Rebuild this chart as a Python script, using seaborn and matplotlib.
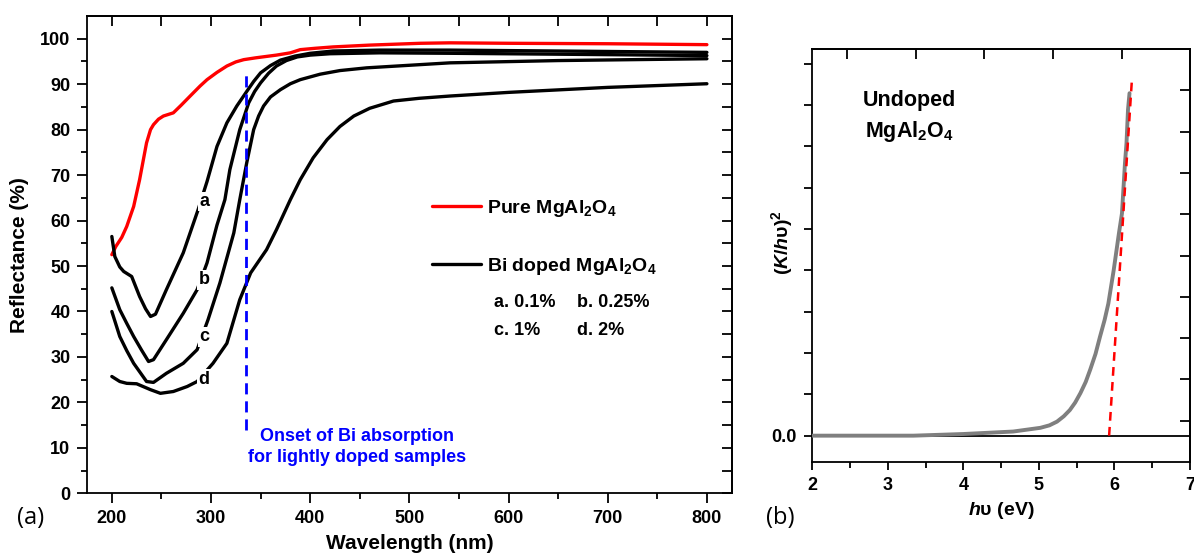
import matplotlib
matplotlib.use('Agg')
import matplotlib.pyplot as plt
import seaborn as sns

# ---------------- data: panel (a) reflectance ----------------
wl_pure = [200, 204, 210, 215, 222, 228, 235, 239, 242, 247, 252, 262, 270, 279, 289, 296, 306, 316, 325, 333, 345, 366, 380, 390, 405, 423, 460, 511, 541, 600, 700, 800]
r_pure = [52.5, 54.3, 56.3, 58.7, 63.1, 69.0, 77.1, 80.0, 81.1, 82.3, 83.0, 83.7, 85.4, 87.4, 89.6, 91.0, 92.6, 94.0, 94.9, 95.4, 95.8, 96.4, 96.9, 97.6, 97.9, 98.2, 98.6, 99.0, 99.1, 99.0, 98.9, 98.7]

wl_a = [200, 203, 208, 212, 220, 228, 234, 239, 244, 255, 272, 287, 296, 306, 316, 326, 336, 343, 350, 360, 370, 385, 400, 423, 470, 541, 650, 800]
r_a = [56.5, 52.1, 49.8, 48.8, 47.7, 43.3, 40.6, 38.9, 39.4, 44.8, 52.9, 62.4, 68.6, 76.3, 81.5, 85.2, 88.4, 90.6, 92.5, 94.1, 95.3, 96.2, 96.8, 97.3, 97.5, 97.5, 97.3, 97.0]

wl_b = [200, 208, 215, 222, 230, 237, 242, 255, 272, 286, 296, 306, 314, 319, 329, 338, 344, 350, 358, 366, 376, 387, 400, 420, 470, 541, 650, 800]
r_b = [45.2, 40.4, 37.4, 34.5, 31.5, 29.0, 29.4, 33.8, 39.6, 44.8, 50.7, 59.0, 64.6, 71.2, 80.0, 85.9, 88.4, 90.3, 92.4, 94.0, 95.2, 96.0, 96.4, 96.7, 96.9, 96.8, 96.6, 96.3]

wl_c = [200, 208, 215, 222, 235, 242, 255, 272, 286, 297, 309, 323, 329, 336, 343, 348, 353, 360, 370, 380, 390, 410, 430, 457, 541, 650, 800]
r_c = [40.0, 34.5, 31.4, 28.6, 24.6, 24.4, 26.4, 28.6, 31.6, 38.2, 46.3, 57.3, 64.6, 72.7, 80.0, 83.0, 85.2, 87.2, 88.8, 90.1, 91.0, 92.2, 93.0, 93.6, 94.7, 95.2, 95.6]

wl_d = [200, 208, 215, 225, 239, 249, 262, 276, 286, 302, 316, 329, 340, 356, 366, 380, 390, 403, 417, 430, 444, 460, 484, 510, 541, 600, 700, 800]
r_d = [25.7, 24.6, 24.2, 24.1, 22.8, 22.0, 22.4, 23.5, 24.6, 28.6, 33.0, 42.6, 48.5, 53.6, 58.0, 64.6, 69.0, 73.8, 77.8, 80.7, 83.0, 84.7, 86.3, 86.9, 87.4, 88.2, 89.3, 90.1]

curve_letters = ['a', 'b', 'c', 'd']
letter_wl = [293, 293, 293, 293]
letter_r = [64.2, 47.0, 34.4, 25.1]
conc_labels = ['a. 0.1%', 'b. 0.25%', 'c. 1%', 'd. 2%']

onset_wl = 335
onset_span = [14, 92]

# ---------------- data: panel (b) Tauc plot ----------------
hv = [2.0, 2.5, 3.0, 3.34, 4.0, 4.66, 5.02, 5.14, 5.24, 5.33, 5.41, 5.48, 5.55, 5.62, 5.68, 5.75, 5.81, 5.87, 5.92, 5.99, 6.06, 6.10, 6.14, 6.16, 6.18, 6.20]
k2 = [0.0, 0.0, 0.0, 0.0, 0.04, 0.10, 0.19, 0.25, 0.34, 0.47, 0.62, 0.80, 1.03, 1.30, 1.60, 1.98, 2.40, 2.80, 3.20, 4.00, 4.90, 5.38, 6.60, 7.08, 7.89, 8.29]
fit_hv = [5.93, 6.23]
fit_k2 = [0.0, 8.57]

# ---------------- style ----------------
sns.set_style('ticks')
plt.rcParams['font.family'] = ['Liberation Sans', 'DejaVu Sans']
plt.rcParams['font.weight'] = 'bold'
plt.rcParams['mathtext.fontset'] = 'custom'
plt.rcParams['mathtext.rm'] = 'Liberation Sans:bold'
plt.rcParams['mathtext.bf'] = 'Liberation Sans:bold'
plt.rcParams['mathtext.it'] = 'Liberation Sans:bold:italic'
plt.rcParams['mathtext.default'] = 'rm'
plt.rcParams['axes.linewidth'] = 1.3
plt.rcParams['axes.edgecolor'] = 'black'
plt.rcParams['text.color'] = 'black'
plt.rcParams['axes.labelcolor'] = 'black'
plt.rcParams['xtick.color'] = 'black'
plt.rcParams['ytick.color'] = 'black'

fig = plt.figure(figsize=(11.94, 5.58), dpi=100)
axA = fig.add_axes([0.0729, 0.1159, 0.6128 - 0.0729, 0.9713 - 0.1159])
axB = fig.add_axes([0.6803, 0.1726, 0.9966 - 0.6803, 0.9122 - 0.1726])

LW = 2.4
sns.lineplot(x=wl_pure, y=r_pure, ax=axA, color='#ff0000', lw=LW, sort=False, estimator=None,
             label='Pure MgAl$_2$O$_4$')
sns.lineplot(x=wl_a, y=r_a, ax=axA, color='black', lw=LW, sort=False, estimator=None,
             label='Bi doped MgAl$_2$O$_4$')
for xs, ys in [(wl_b, r_b), (wl_c, r_c), (wl_d, r_d)]:
    sns.lineplot(x=xs, y=ys, ax=axA, color='black', lw=LW, sort=False, estimator=None)

axA.vlines(onset_wl, onset_span[0], onset_span[1], colors='#0000ff', lw=2.0,
           linestyles=(0, (4, 2.5)))

for L, x, y in zip(curve_letters, letter_wl, letter_r):
    axA.text(x, y, L, fontsize=13, fontweight='bold', ha='center', va='center', zorder=5,
             bbox=dict(fc='white', ec='none', pad=1.0))

axA.text(447, 10.2, 'Onset of Bi absorption\nfor lightly doped samples', color='#0000ff',
         fontsize=13, fontweight='bold', ha='center', va='center', linespacing=1.3)

h, l = axA.get_legend_handles_labels()
axA.legend(h, l, loc='center left', bbox_to_anchor=(0.535, 0.536), frameon=False,
           fontsize=14, handlelength=2.5, handletextpad=0.35, labelspacing=1.9,
           borderpad=0, borderaxespad=0)
axA.text(0.631, 0.399, conc_labels[0], transform=axA.transAxes, fontsize=13, fontweight='bold', va='center')
axA.text(0.760, 0.399, conc_labels[1], transform=axA.transAxes, fontsize=13, fontweight='bold', va='center')
axA.text(0.631, 0.342, conc_labels[2], transform=axA.transAxes, fontsize=13, fontweight='bold', va='center')
axA.text(0.760, 0.342, conc_labels[3], transform=axA.transAxes, fontsize=13, fontweight='bold', va='center')

axA.set_xlim(175, 825)
axA.set_ylim(0, 105)
axA.set_xticks(range(200, 801, 100))
axA.set_xticks(range(250, 801, 100), minor=True)
axA.set_yticks(range(0, 101, 10))
axA.set_yticks(range(5, 101, 10), minor=True)
axA.tick_params(which='major', direction='out', length=7, width=1.3, labelsize=13, pad=5,
                top=False, right=False)
axA.tick_params(which='minor', direction='out', length=4.5, width=1.3, top=False, right=False)
for t in axA.get_xticklabels() + axA.get_yticklabels():
    t.set_fontweight('bold')
axA.set_xlabel('Wavelength (nm)', fontsize=15, fontweight='bold', labelpad=5)
axA.set_ylabel('Reflectance (%)', fontsize=15, fontweight='bold', labelpad=8)
secx = axA.secondary_xaxis('top')
secx.set_xticks(range(200, 801, 50))
secx.tick_params(direction='in', length=7, width=1.3, labeltop=False)
secy = axA.secondary_yaxis('right')
secy.set_yticks(range(0, 101, 5))
secy.tick_params(direction='in', length=7, width=1.3, labelright=False)

# ---------------- panel (b) ----------------
axB.axhline(0, color='black', lw=1.3, zorder=1)
sns.lineplot(x=hv, y=k2, ax=axB, color='#7f7f7f', lw=2.8, sort=False, estimator=None, zorder=3)
sns.lineplot(x=fit_hv, y=fit_k2, ax=axB, color='#ff0000', lw=1.8, sort=False, estimator=None,
             linestyle=(0, (3.5, 2.5)), zorder=4)
axB.set_xlim(2, 7)
axB.set_ylim(-0.63, 9.36)
axB.set_xticks(range(2, 8))
axB.set_xticks([2.5, 3.5, 4.5, 5.5, 6.5], minor=True)
axB.set_yticks(range(0, 10))
axB.set_yticklabels(['0.0'] + [''] * 9)
axB.tick_params(which='major', direction='out', length=6, width=1.3, labelsize=13, pad=5,
                top=False, right=False)
axB.tick_params(which='minor', direction='out', length=4.5, width=1.3, top=False, right=False)
for t in axB.get_xticklabels() + axB.get_yticklabels():
    t.set_fontweight('bold')
axB.set_xlabel('$\\mathit{h}$υ (eV)', fontsize=14, fontweight='bold', labelpad=4)
axB.set_ylabel('($\\mathit{K/h}$υ)$^2$', fontsize=14, fontweight='bold')
axB.yaxis.set_label_coords(-0.046, 0.532)
secx2 = axB.secondary_xaxis('top')
secx2.set_xticks([2.46, 3.37, 4.28, 5.19, 6.10])
secx2.tick_params(direction='in', length=7, width=1.3, labeltop=False)
secy2 = axB.secondary_yaxis('right')
secy2.set_yticks([0.36 + k for k in range(9)])
secy2.tick_params(direction='in', length=7, width=1.3, labelright=False)

axB.text(0.133, 0.876, 'Undoped', transform=axB.transAxes, fontsize=15.5, fontweight='bold',
         ha='left', va='center')
axB.text(0.139, 0.80, 'MgAl$_2$O$_4$', transform=axB.transAxes, fontsize=15.5, fontweight='bold',
         ha='left', va='center')

fig.text(31 / 1194, 1 - 518 / 558, '(a)', fontsize=17, fontweight='normal', ha='center', va='center',
         family=['Open Sans', 'DejaVu Sans'])
fig.text(780 / 1194, 1 - 518 / 558, '(b)', fontsize=17, fontweight='normal', ha='center', va='center',
         family=['Open Sans', 'DejaVu Sans'])

fig.savefig('out.png', dpi=100)
